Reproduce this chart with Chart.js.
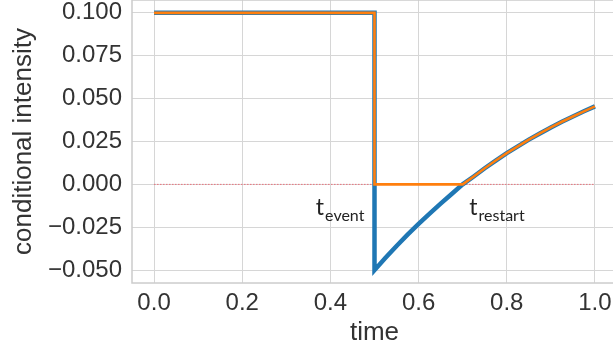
<!DOCTYPE html>
<html>
<head>
<meta charset="utf-8">
<script src="https://cdn.jsdelivr.net/npm/chart.js@4.4.0/dist/chart.umd.min.js"></script>
<style>
  html, body { margin: 0; padding: 0; background: #fff; overflow: hidden; }
  #wrap { width: 613px; height: 350px; overflow: hidden; }
</style>
</head>
<body>
<div id="wrap"><canvas id="intensity" width="640" height="350"></canvas></div>
<script>
// values
var blueX = [0, 0.5, 0.5, 0.525, 0.55, 0.575, 0.6, 0.625, 0.65, 0.675, 0.7, 0.725, 0.75, 0.775, 0.8, 0.825, 0.85, 0.875, 0.9, 0.925, 0.95, 0.975, 1.0];
var blueY = [0.1, 0.1, -0.05, -0.0428, -0.0359, -0.0293, -0.023, -0.017, -0.0112, -0.0056, 0.0, 0.0046, 0.0094, 0.0139, 0.0182, 0.0222, 0.0261, 0.0297, 0.0332, 0.0365, 0.0396, 0.0426, 0.0455];
var orangeX = [0, 0.5, 0.5, 0.7, 0.725, 0.75, 0.775, 0.8, 0.825, 0.85, 0.875, 0.9, 0.925, 0.95, 0.975, 1.0];
var orangeY = [0.1, 0.1, 0.0, 0.0, 0.0046, 0.0094, 0.0139, 0.0182, 0.0222, 0.0261, 0.0297, 0.0332, 0.0365, 0.0396, 0.0426, 0.0455];
var zeroX = [0, 1.0];
var zeroY = [0, 0];

var xTicks = [0.0, 0.2, 0.4, 0.6, 0.8, 1.0];
var yTicks = [-0.05, -0.025, 0.0, 0.025, 0.05, 0.075, 0.1];

var labels = [
  {main: 't', sub: 'event', x: 0.367, y: -0.0176},
  {main: 't', sub: 'restart', x: 0.715, y: -0.0176}
];

function pts(xs, ys) {
  return xs.map(function (x, i) { return {x: x, y: ys[i]}; });
}

var textColor = '#333333';
var gridColor = '#d6d6d6';

// light grey box round the plot area, like seaborn whitegrid
var frame = {
  id: 'frame',
  beforeDatasetsDraw: function (chart) {
    var a = chart.chartArea, c = chart.ctx;
    c.save();
    c.strokeStyle = '#cccccc';
    c.lineWidth = 1.5;
    c.strokeRect(a.left, a.top, a.right - a.left, a.bottom - a.top);
    c.restore();
  }
};

// t_event / t_restart notes
var notes = {
  id: 'notes',
  afterDatasetsDraw: function (chart) {
    var c = chart.ctx, xs = chart.scales.x, ys = chart.scales.y;
    c.save();
    c.fillStyle = '#222';
    c.textBaseline = 'alphabetic';
    labels.forEach(function (l) {
      var px = xs.getPixelForValue(l.x), py = ys.getPixelForValue(l.y);
      c.font = '23px Lato';
      c.fillText(l.main, px, py);
      var w = c.measureText(l.main).width;
      c.font = '16px Lato';
      c.fillText(l.sub, px + w + 1, py + 6);
    });
    c.restore();
  }
};

new Chart(document.getElementById('intensity'), {
  type: 'scatter',
  data: {
    datasets: [
      {data: pts(orangeX, orangeY), showLine: true, borderColor: '#ff7f0e', borderWidth: 2.6, pointRadius: 0, order: 1},
      {data: pts(blueX, blueY), showLine: true, borderColor: '#1f77b4', borderWidth: 4.5, pointRadius: 0, order: 2},
      {data: pts(zeroX, zeroY), showLine: true, borderColor: '#e8707a', borderWidth: 1, borderDash: [1.5, 1.5], pointRadius: 0, order: 3}
    ]
  },
  options: {
    responsive: false,
    animation: false,
    layout: {padding: {left: 0, right: 23, top: 0, bottom: 0}},
    plugins: {legend: {display: false}, tooltip: {enabled: false}},
    scales: {
      x: {
        type: 'linear',
        min: -0.05,
        max: 1.05,
        afterBuildTicks: function (s) { s.ticks = xTicks.map(function (v) { return {value: v}; }); },
        afterFit: function (s) { s.height = 67; s.paddingLeft = 0; s.paddingRight = 0; },
        grid: {color: gridColor, lineWidth: 1, drawTicks: false},
        border: {display: false},
        ticks: {
          color: textColor, padding: 6,
          font: {family: 'Liberation Sans', size: 24},
          callback: function (v) { return v.toFixed(1); }
        },
        title: {display: true, text: 'time', color: textColor, font: {family: 'Liberation Sans', size: 26}, padding: {top: 0, bottom: 2}}
      },
      y: {
        type: 'linear',
        min: -0.0575,
        max: 0.1075,
        afterBuildTicks: function (s) { s.ticks = yTicks.map(function (v) { return {value: v}; }); },
        afterFit: function (s) { s.width = 132; s.paddingTop = 0; s.paddingBottom = 0; },
        grid: {color: gridColor, lineWidth: 1, drawTicks: false},
        border: {display: false},
        ticks: {
          color: textColor, padding: 10,
          font: {family: 'Liberation Sans', size: 24},
          callback: function (v) { return v.toFixed(3).replace('-', '\u2212'); }
        },
        title: {display: true, text: 'conditional intensity', color: textColor, font: {family: 'Liberation Sans', size: 26}, padding: {top: 8, bottom: 0}}
      }
    }
  },
  plugins: [frame, notes]
});
</script>
</body>
</html>
